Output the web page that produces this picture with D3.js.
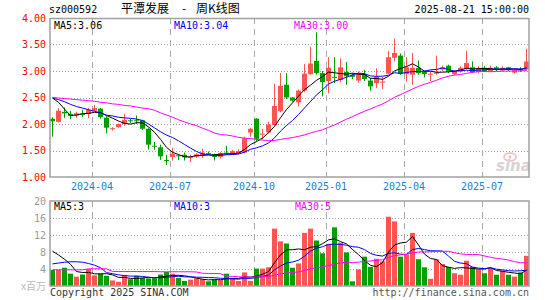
<!DOCTYPE html>
<html>
<head>
<meta charset="utf-8">
<script src="https://cdn.jsdelivr.net/npm/d3@7"></script>
<style>
  body { margin: 0; background: #fff; }
  svg { display: block; }
</style>
</head>
<body>
<svg id="chart" width="545" height="300"></svg>
<script>
// weekly K-line, sz000592, 80 weeks
const opens  = [2.10,2.04,2.23,2.19,2.16,2.19,2.19,2.25,2.29,2.12, 1.90,1.94,2.00,2.07,2.07,2.07,1.91,1.59,1.56,1.32,
                1.38,1.41,1.42,1.37,1.38,1.40,1.45,1.43,1.38,1.46, 1.44,1.45,1.46,1.84,2.10,1.80,1.84,1.98,2.24,2.74,
                2.50,2.41,2.63,2.94,3.19,2.96,2.81,2.89,2.83,2.98, 2.93,2.82,2.94,2.82,2.77,2.78,2.95,3.25,3.29,2.94,
                2.93,3.06,2.99,2.94,2.95,3.03,3.10,2.94,2.99,3.05, 3.07,2.98,3.06,3.00,3.07,3.01,3.07,2.97,3.03,3.03];
const highs  = [2.13,2.30,2.31,2.25,2.23,2.27,2.30,2.36,2.30,2.15, 1.94,2.01,2.19,2.10,2.16,2.08,1.92,1.66,1.61,1.42,
                1.55,1.43,1.46,1.42,1.45,1.53,1.48,1.44,1.47,1.59, 1.51,1.52,1.76,1.93,2.11,1.91,2.04,2.76,2.96,2.96,
                2.51,2.65,3.13,3.46,3.73,3.00,3.26,3.26,3.24,3.17, 2.96,2.99,3.02,2.87,3.05,2.89,3.38,3.61,3.33,3.26,
                3.34,3.20,3.00,2.99,3.29,3.10,3.12,3.02,3.09,3.38, 3.18,3.09,3.09,3.10,3.09,3.09,3.08,3.05,3.07,3.42];
const lows   = [1.76,2.03,2.11,2.09,2.12,2.13,2.11,2.23,2.10,1.82, 1.88,1.93,1.97,2.02,2.00,1.89,1.52,1.51,1.32,1.23,
                1.31,1.32,1.31,1.28,1.36,1.36,1.42,1.31,1.35,1.42, 1.42,1.43,1.45,1.76,1.68,1.71,1.82,1.97,2.22,2.47,
                2.42,2.33,2.60,2.93,2.93,2.52,2.58,2.77,2.79,2.74, 2.85,2.78,2.81,2.63,2.68,2.66,2.94,3.18,2.93,2.80,
                2.74,2.93,2.88,2.81,2.93,3.00,2.96,2.92,2.97,3.03, 2.96,2.96,2.98,2.98,3.00,2.99,3.00,2.95,2.98,3.01];
const closes = [2.05,2.25,2.20,2.15,2.20,2.18,2.27,2.30,2.13,1.93, 1.92,2.00,2.08,2.06,2.06,1.91,1.61,1.58,1.39,1.31,
                1.44,1.40,1.37,1.38,1.43,1.46,1.44,1.38,1.45,1.44, 1.49,1.49,1.73,1.91,1.72,1.82,1.99,2.34,2.72,2.50,
                2.44,2.63,2.95,3.14,2.96,2.79,3.06,2.88,3.07,2.90, 2.89,2.96,2.85,2.71,2.89,2.80,3.26,3.34,2.95,3.07,
                3.06,2.96,2.94,2.95,2.97,3.07,2.99,3.00,3.06,3.15, 2.98,3.05,3.00,3.06,3.02,3.06,3.02,3.02,3.02,3.18];
// volume, x 1,000,000
const volumes = [3.8,3.8,4.3,2.9,2.2,2.7,4.0,2.5,2.9,2.4, 1.3,1.0,2.6,1.6,2.4,1.9,1.8,1.8,2.7,3.3,
                 2.9,1.9,1.2,1.5,1.8,1.6,1.1,1.5,1.4,2.9, 1.9,1.2,3.2,1.2,4.1,4.1,4.4,13.5,10.5,10.0,
                 4.3,5.3,12.5,13.5,10.7,7.7,9.9,13.8,10.2,7.9, 1.1,3.9,6.9,4.5,6.4,5.8,16.3,15.2,6.9,7.4,
                 12.5,6.3,4.4,1.7,6.3,5.2,4.5,3.0,2.65,5.95, 4.5,3.9,3.0,4.2,2.65,3.6,2.65,2.2,3.2,7.1];

// moving averages before a full window is visible
const ma5Head  = [2.49,2.41,2.28,2.16];
const ma10Head = [2.49,2.46,2.42,2.37,2.33,2.30,2.27,2.24,2.21];
const ma30Head = [2.50,2.49,2.48,2.47,2.46,2.45,2.44,2.43,2.41,2.40, 2.38,2.37,2.35,2.34,2.32,2.30,2.29,2.26,2.21,2.17,
                  2.13,2.08,2.04,2.00,1.97,1.92,1.88,1.83,1.80];
const vma5Head  = [8.2,7.3,6.3,5.1];
const vma10Head = [5.2,5.4,5.6,5.7,5.7,5.6,5.3,4.9,4.3];
const vma30Head = [3.8,3.8,3.8,3.8,3.8,3.8,4.05,4.05,4.05,4.05, 3.45,3.4,3.4,3.4,3.4,3.4,3.4,3.4,3.35,3.35,
                   3.35,3.35,3.35,3.35,3.3,3.0,2.95,2.95,2.9];

const maLabels  = ['MA5:3.06', 'MA10:3.04', 'MA30:3.00'];
const vmaLabels = ['MA5:3', 'MA10:3', 'MA30:5'];

const monthIndex  = [7, 20, 34, 46, 59, 72];
const monthLabels = ['2024-04', '2024-07', '2024-10', '2025-01', '2025-04', '2025-07'];
const priceTicks = [1.00, 1.50, 2.00, 2.50, 3.00, 3.50, 4.00];
const volTicks = [4, 8, 12, 16, 20];

const RED = '#ff5454';
const GREEN = '#00a000';
const MA_COLORS = ['#000000', '#0000ff', '#ff00ff'];
const MONO = '"DejaVu Sans Mono", monospace';
const CJK = '"Noto Sans CJK SC", sans-serif';

const svg = d3.select('#chart');
const idx = d3.range(closes.length);

const x = d3.scaleBand().domain(idx).range([50, 529]).paddingInner(1 / 6).paddingOuter(0);
const bw = x.bandwidth();
const cx = i => x(i) + bw / 2;

const yP = d3.scaleLinear().domain([1, 4]).range([177, 18]);
const yV = d3.scaleLinear().domain([0, 20]).range([286, 201]);

function movingAvg(values, n, head) {
  return values.map((v, i) => i < n - 1 ? head[i] : d3.mean(values.slice(i - n + 1, i + 1)));
}

// header
svg.append('text').attr('x', 49).attr('y', 13).attr('font-family', MONO).attr('font-size', 10)
  .attr('fill', '#000').text('sz000592');
const title = svg.append('text').attr('y', 13).attr('font-family', CJK).attr('font-size', 12).attr('fill', '#000');
title.append('tspan').attr('x', 121).text('平潭发展');
title.append('tspan').attr('x', 182).text('-');
title.append('tspan').attr('x', 196).text('周K线图');
svg.append('text').attr('x', 529).attr('y', 13).attr('text-anchor', 'end').attr('font-family', MONO)
  .attr('font-size', 10).attr('fill', '#000').text('2025-08-21 15:00:00');

// grid
const grid = svg.append('g');
grid.selectAll('line.hp')
  .data(priceTicks.slice(1, -1))
  .join('line')
  .attr('x1', 50).attr('x2', 529)
  .attr('y1', d => Math.round(yP(d)) + 0.5).attr('y2', d => Math.round(yP(d)) + 0.5)
  .attr('stroke', '#a0a0a0').attr('stroke-dasharray', '1,2');
grid.selectAll('line.hv')
  .data(volTicks.slice(0, -1))
  .join('line')
  .attr('x1', 50).attr('x2', 529)
  .attr('y1', d => Math.round(yV(d)) + 0.5).attr('y2', d => Math.round(yV(d)) + 0.5)
  .attr('stroke', '#a0a0a0').attr('stroke-dasharray', '1,2');

monthIndex.forEach(i => {
  const xx = Math.round(x(i)) + 0.5;
  [[18, 177], [201, 286]].forEach(([a, b]) => {
    grid.append('line').attr('x1', xx).attr('x2', xx).attr('y1', a).attr('y2', b)
      .attr('stroke', '#a8a8a8').attr('stroke-dasharray', '6,5');
  });
});

// axis labels
svg.append('g').selectAll('text')
  .data(priceTicks)
  .join('text')
  .attr('x', 46).attr('y', d => yP(d)).attr('dy', '0.35em')
  .attr('text-anchor', 'end').attr('font-family', MONO).attr('font-size', 10)
  .attr('fill', '#ff0000').text(d => d.toFixed(2));

svg.append('g').selectAll('text')
  .data(volTicks)
  .join('text')
  .attr('x', 46).attr('y', d => yV(d)).attr('dy', '0.35em')
  .attr('text-anchor', 'end').attr('font-family', MONO).attr('font-size', 10)
  .attr('fill', '#999').text(d => d);

svg.append('text').attr('x', 46).attr('y', 290).attr('text-anchor', 'end')
  .attr('font-family', CJK).attr('font-size', 10)
  .attr('fill', '#bbb').text('x百万');

svg.append('g').selectAll('text')
  .data(monthIndex)
  .join('text')
  .attr('x', i => x(i)).attr('y', 189.5).attr('text-anchor', 'middle')
  .attr('font-family', MONO).attr('font-size', 10).attr('fill', '#1a7fd0')
  .text((d, k) => monthLabels[k]);

// candles
const candles = svg.append('g');
idx.forEach(i => {
  const up = closes[i] >= opens[i];
  const col = up ? RED : GREEN;
  const xx = Math.round(x(i));
  candles.append('line')
    .attr('x1', xx + 2.5).attr('x2', xx + 2.5)
    .attr('y1', yP(highs[i])).attr('y2', yP(lows[i]))
    .attr('stroke', col).attr('stroke-width', 1);
  const top = yP(Math.max(opens[i], closes[i]));
  const bot = yP(Math.min(opens[i], closes[i]));
  candles.append('rect')
    .attr('x', xx).attr('width', bw)
    .attr('y', top).attr('height', Math.max(1, bot - top))
    .attr('fill', col);
});

// volume bars
svg.append('g').selectAll('rect')
  .data(idx)
  .join('rect')
  .attr('x', i => Math.round(x(i))).attr('width', bw)
  .attr('y', i => yV(volumes[i])).attr('height', i => yV(0) - yV(volumes[i]))
  .attr('fill', i => closes[i] >= opens[i] ? RED : GREEN);

// moving average lines
const priceMAs = [movingAvg(closes, 5, ma5Head), movingAvg(closes, 10, ma10Head), movingAvg(closes, 30, ma30Head)];
const volMAs = [movingAvg(volumes, 5, vma5Head), movingAvg(volumes, 10, vma10Head), movingAvg(volumes, 30, vma30Head)];

const lineP = d3.line().x((d, i) => cx(i)).y(d => yP(d));
const lineV = d3.line().x((d, i) => cx(i)).y(d => yV(d));

priceMAs.forEach((s, k) => {
  svg.append('path').attr('d', lineP(s)).attr('fill', 'none')
    .attr('stroke', MA_COLORS[k]).attr('stroke-width', 1);
});
volMAs.forEach((s, k) => {
  svg.append('path').attr('d', lineV(s)).attr('fill', 'none')
    .attr('stroke', MA_COLORS[k]).attr('stroke-width', 1);
});

// frames
svg.append('rect').attr('x', 50).attr('y', 18.5).attr('width', 479).attr('height', 158.5)
  .attr('fill', 'none').attr('stroke', '#a0a0a0').attr('stroke-width', 1.5);
svg.append('rect').attr('x', 50).attr('y', 201).attr('width', 479).attr('height', 85)
  .attr('fill', 'none').attr('stroke', '#a0a0a0').attr('stroke-width', 1.5);

// legends
const maX = [54, 174, 294];
maLabels.forEach((t, k) => {
  svg.append('text').attr('x', maX[k]).attr('y', 28.5).attr('font-family', MONO).attr('font-size', 10)
    .attr('fill', MA_COLORS[k]).text(t);
});
vmaLabels.forEach((t, k) => {
  svg.append('text').attr('x', maX[k] + (k === 2 ? 1 : 0)).attr('y', 209.5).attr('font-family', MONO)
    .attr('font-size', 10).attr('fill', MA_COLORS[k]).text(t);
});

// sina watermark
const logo = svg.append('g').attr('opacity', 0.5);
logo.append('ellipse').attr('cx', 510).attr('cy', 157).attr('rx', 6).attr('ry', 4)
  .attr('fill', 'none').attr('stroke', '#e08080').attr('stroke-width', 1.5);
logo.append('circle').attr('cx', 510).attr('cy', 157).attr('r', 1.6).attr('fill', '#e08080');
logo.append('text').attr('x', 496).attr('y', 171).attr('font-family', 'Verdana, "DejaVu Sans", sans-serif')
  .attr('font-size', 15).attr('font-style', 'italic').attr('font-weight', 'bold')
  .attr('fill', '#aaa').text('sina');

// footer
svg.append('text').attr('x', 50).attr('y', 296).attr('font-family', MONO).attr('font-size', 10)
  .attr('fill', '#333').text('Copyright 2025 SINA.COM');
svg.append('text').attr('x', 529).attr('y', 296).attr('text-anchor', 'end').attr('font-family', MONO)
  .attr('font-size', 10).attr('fill', '#555').text('http://finance.sina.com.cn');
</script>
</body>
</html>
